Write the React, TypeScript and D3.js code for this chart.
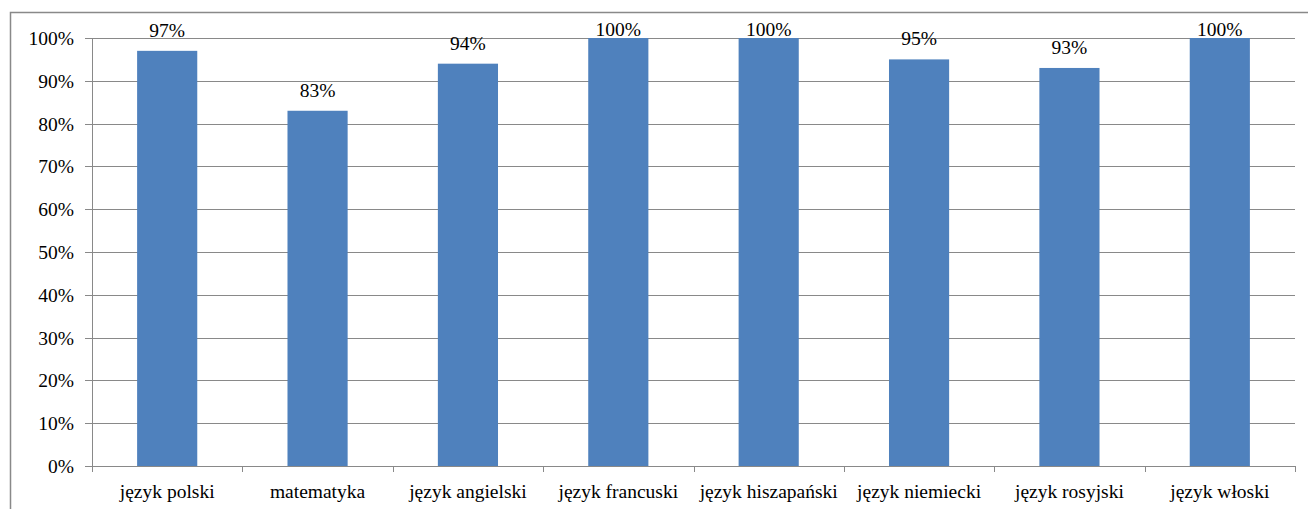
import React from "react";
import * as d3 from "d3";

const categories = ["język polski", "matematyka", "język angielski", "język francuski", "język hiszapański", "język niemiecki", "język rosyjski", "język włoski"];
const values = [97, 83, 94, 100, 100, 95, 93, 100];
const yTicks = [0, 10, 20, 30, 40, 50, 60, 70, 80, 90, 100];

export default function App() {
  const W = 1308, H = 509;
  const left = 92, right = 1295, top = 38, bottom = 466;
  const x = d3.scaleBand<string>().domain(categories).range([left, right]).paddingInner(0.6).paddingOuter(0.3);
  const xb = d3.scaleBand<string>().domain(categories).range([left, right]);
  const y = d3.scaleLinear().domain([0, 100]).range([bottom, top]);
  const txt: React.CSSProperties = { fontFamily: '"Liberation Serif", "Times New Roman", "DejaVu Serif", serif', fontSize: "19.5px" };
  const grid = "#898989";
  return (
    <svg width={W} height={H} style={{ position: "absolute", left: 0, top: 0 }}>
      <rect x={0} y={0} width={W} height={H} fill="#fff" />
      <path d={`M10.5,${H} V12.5 H${W}`} fill="none" stroke={grid} strokeWidth={1.5} />
      {yTicks.map((t) => (
        <g key={t}>
          <line x1={85} x2={right} y1={Math.round(y(t)) + 0.5} y2={Math.round(y(t)) + 0.5} stroke={grid} strokeWidth={1} />
          <text x={74} y={y(t) + 7} textAnchor="end" style={txt} fill="#000">{t}%</text>
        </g>
      ))}
      <line x1={left + 0.5} x2={left + 0.5} y1={top} y2={bottom} stroke={grid} />
      {categories.map((c, i) => (
        <line key={"t" + i} x1={Math.round(xb(c)!) + 0.5} x2={Math.round(xb(c)!) + 0.5} y1={bottom} y2={bottom + 6} stroke={grid} />
      ))}
      <line x1={right + 0.5} x2={right + 0.5} y1={bottom} y2={bottom + 6} stroke={grid} />
      {categories.map((c, i) => {
        const v = values[i];
        const bx = x(c)!;
        const bw = x.bandwidth();
        const ty = Math.max(y(v) - 14, 36);
        return (
          <g key={c}>
            <rect x={bx} y={y(v)} width={bw} height={bottom - y(v)} fill="#4F81BD" />
            <text x={bx + bw / 2} y={ty} textAnchor="middle" style={txt} fill="#000">{v}%</text>
            <text x={xb(c)! + xb.bandwidth() / 2} y={498} textAnchor="middle" style={txt} fill="#000">{c}</text>
          </g>
        );
      })}
    </svg>
  );
}
